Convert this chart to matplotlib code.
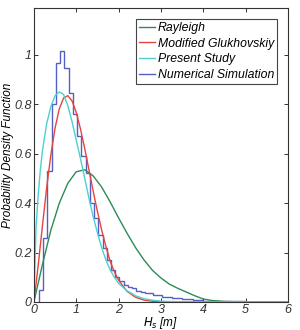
import matplotlib
matplotlib.use("Agg")
import matplotlib.pyplot as plt
import numpy as np

plt.rcParams['font.family'] = ['Liberation Sans', 'DejaVu Sans']

# Rayleigh curve
ray_x = [0, 0.2, 0.4, 0.6, 0.8, 1.0, 1.2, 1.4, 1.6, 1.8, 2.0, 2.2, 2.4, 2.6, 2.8,
         3.0, 3.2, 3.4, 3.6, 3.8, 4.0, 4.2, 4.5, 5.0, 6.0]
ray_y = [0, 0.15, 0.29, 0.40, 0.48, 0.527, 0.535, 0.51, 0.465, 0.405, 0.34, 0.278,
         0.22, 0.17, 0.128, 0.097, 0.072, 0.055, 0.04, 0.025, 0.012, 0.006, 0.002, 0, 0]

# Modified Glukhovskiy curve
glu_x = [0, 0.1, 0.2, 0.3, 0.4, 0.5, 0.6, 0.7, 0.8, 0.9, 1.0, 1.1, 1.2, 1.3, 1.4,
         1.5, 1.6, 1.7, 1.8, 1.9, 2.0, 2.2, 2.4, 2.6, 2.8, 3.0, 3.5, 6.0]
glu_y = [0, 0.146, 0.306, 0.460, 0.595, 0.704, 0.782, 0.825, 0.835, 0.814, 0.767,
         0.700, 0.621, 0.535, 0.448, 0.366, 0.291, 0.225, 0.165, 0.122, 0.088,
         0.043, 0.019, 0.0074, 0.0027, 0.0009, 0, 0]

# Present Study curve
pre_x = [0, 0.05, 0.1, 0.15, 0.2, 0.3, 0.4, 0.5, 0.6, 0.7, 0.8, 0.9, 1.0, 1.1, 1.2,
         1.3, 1.4, 1.5, 1.6, 1.7, 1.8, 1.9, 2.0, 2.2, 2.4, 2.6, 2.8, 3.0, 3.5, 6.0]
pre_y = [0, 0.30, 0.43, 0.53, 0.61, 0.72, 0.79, 0.835, 0.85, 0.84, 0.795, 0.73,
         0.655, 0.58, 0.50, 0.42, 0.345, 0.28, 0.22, 0.17, 0.13, 0.10, 0.075,
         0.045, 0.025, 0.013, 0.007, 0.003, 0.0005, 0]

# Numerical Simulation histogram
hist_edges = [0.12, 0.22, 0.32, 0.42, 0.52, 0.62, 0.72, 0.82, 0.92, 1.02, 1.12,
              1.22, 1.32, 1.42, 1.52, 1.62, 1.72, 1.82, 1.92, 2.02, 2.12, 2.22,
              2.32, 2.42, 2.52, 2.62, 2.72, 2.82, 2.92, 3.02, 3.25, 3.5, 3.75,
              4.0, 4.5, 5.0, 6.0]
hist_vals = [0.05, 0.257, 0.53, 0.80, 0.967, 1.017, 0.947, 0.845, 0.76, 0.67,
             0.59, 0.52, 0.40, 0.34, 0.27, 0.22, 0.17, 0.13, 0.10, 0.085, 0.07,
             0.06, 0.055, 0.045, 0.04, 0.035, 0.037, 0.03, 0.028, 0.022, 0.018,
             0.012, 0.008, 0.004, 0.002, 0.0]

x_ticks = [0, 1, 2, 3, 4, 5, 6]
y_ticks = [0, 0.2, 0.4, 0.6, 0.8, 1.0]
y_tick_labels = ['0', '0.2', '0.4', '0.6', '0.8', '1']

c_ray = '#2E8B57'
c_glu = '#E8443E'
c_pre = '#4DD0CF'
c_num = '#5560C4'

fig = plt.figure(figsize=(3.0, 3.3), dpi=100)
ax = fig.add_axes([0.113, 0.085, 0.847, 0.891])

ax.plot(ray_x, ray_y, color=c_ray, lw=1.0, label='Rayleigh')
ax.plot(glu_x, glu_y, color=c_glu, lw=1.0, label='Modified Glukhovskiy')
ax.plot(pre_x, pre_y, color=c_pre, lw=1.0, label='Present Study')
ax.stairs(hist_vals, hist_edges, color=c_num, lw=1.0, label='Numerical Simulation')

ax.set_xlim(0, 6)
ax.set_ylim(0, 1.19)
ax.set_xticks(x_ticks)
ax.set_xticklabels([str(t) for t in x_ticks], fontstyle='italic', fontsize=9)
ax.set_yticks(y_ticks)
ax.set_yticklabels(y_tick_labels, fontstyle='italic', fontsize=9)
ax.tick_params(direction='in', top=True, right=True, length=3, width=0.7,
               colors='#333333', pad=1.5)
for s in ax.spines.values():
    s.set_linewidth(0.8)
    s.set_color('#333333')

ax.set_xlabel('$\\mathit{H_s}$ [m]', fontstyle='italic', fontsize=8.5, labelpad=-1)
ax.set_ylabel('Probability Density Function', fontstyle='italic', fontsize=8.5, labelpad=0)

leg = ax.legend(loc='upper right', handlelength=1.3, handletextpad=0.2,
                borderpad=0.25, labelspacing=0.3, fancybox=False,
                edgecolor='#444444', framealpha=1, borderaxespad=0.9,
                prop={'style': 'italic', 'size': 8.8})
leg.get_frame().set_linewidth(0.8)

fig.savefig('out.png', dpi=100)
